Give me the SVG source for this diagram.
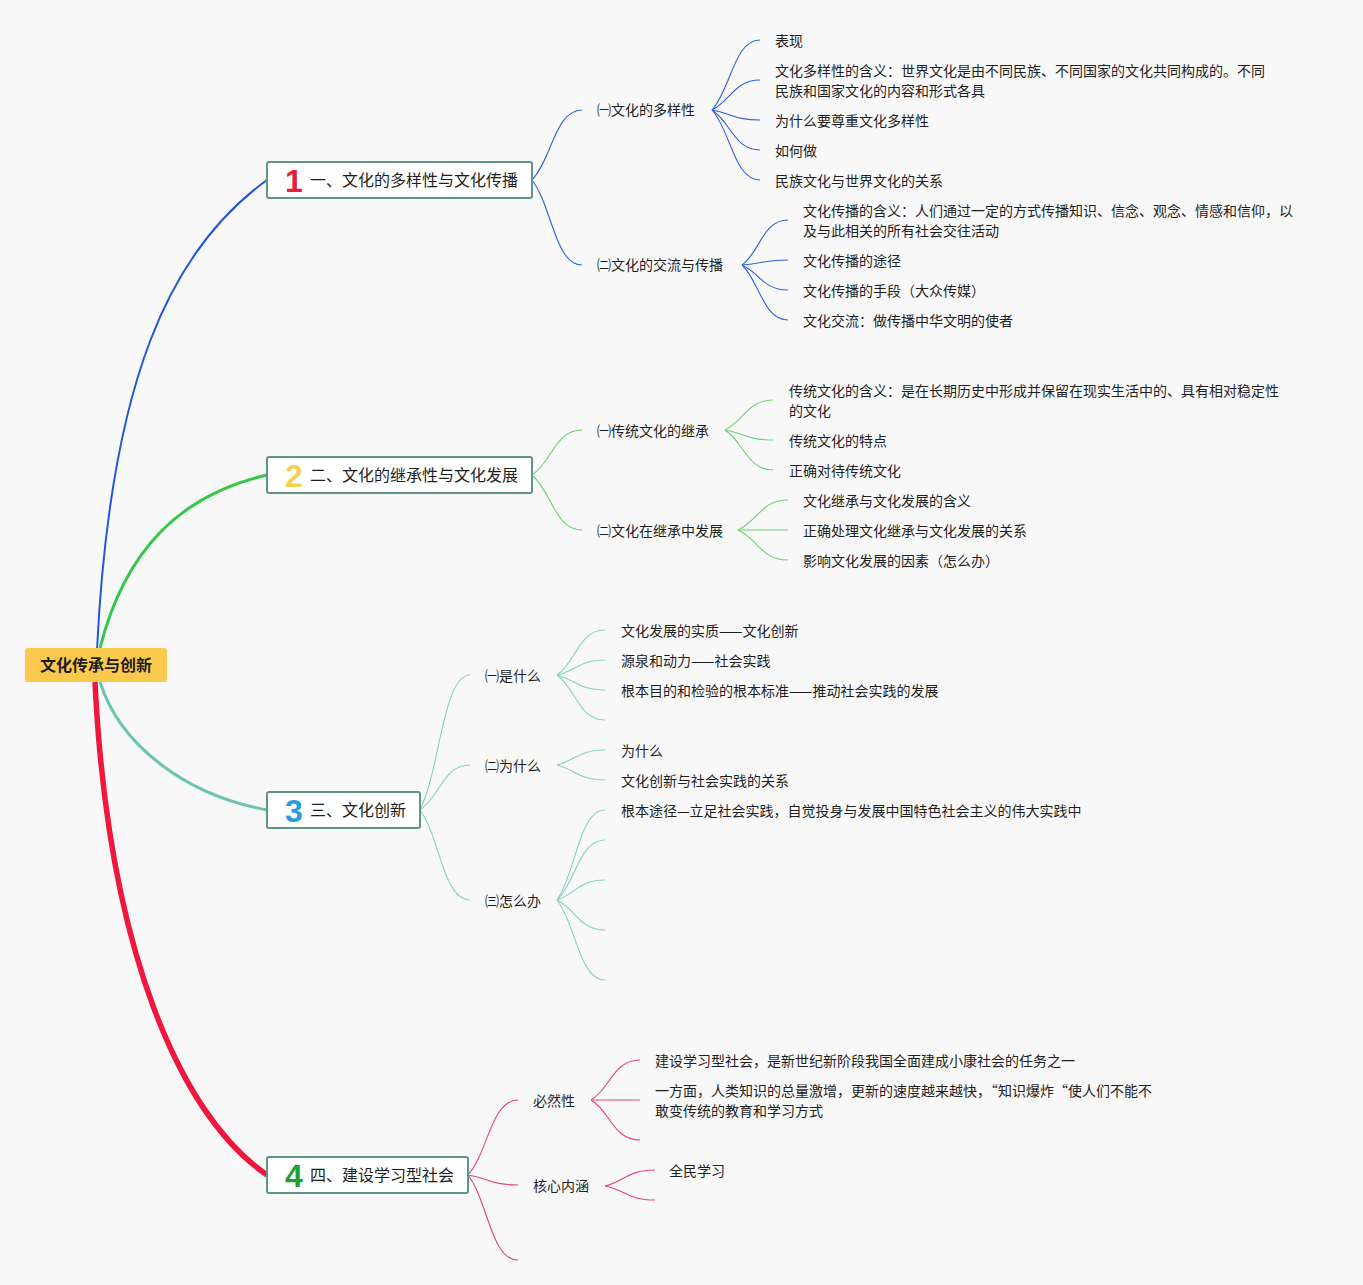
<svg xmlns="http://www.w3.org/2000/svg" width="1363" height="1285" viewBox="0 0 1363 1285">
<style>
text{font-family:"Noto Sans CJK SC","Liberation Sans",sans-serif;fill:#1e1e1e}
.t{font-size:14px}
.b{font-size:16px}
.num{font-family:"Liberation Sans","Noto Sans CJK SC",sans-serif;font-size:32px;font-weight:bold}
.box{fill:#ffffff;stroke:#5f9585;stroke-width:2}
.c1,.c2,.c3,.c4{fill:none;stroke-width:1.1}
.c1{stroke:#2f62e0}.c2{stroke:#6ad36e}.c3{stroke:#84d1bf}.c4{stroke:#e8456a}
</style>
<rect width="1363" height="1285" fill="#f8f8f9"/>
<g id="connectors">
<path d="M97,650 C110,380 170,250 267,180" fill="none" stroke="#2457d6" stroke-width="2"/>
<path d="M100,648 C125,550 180,495 267,475" fill="none" stroke="#34c848" stroke-width="3"/>
<path d="M100,682 C120,745 185,795 267,810" fill="none" stroke="#6cc4b0" stroke-width="3"/>
<path d="M95,682 C108,950 180,1115 267,1175" fill="none" stroke="#f0173c" stroke-width="5.5"/>
<path class="c1" d="M532,180 C552,159 555,110 582,110"/>
<path class="c1" d="M532,180 C552,206 555,265 582,265"/>
<path class="c1" d="M712,110 C731,89 734,40 760,40"/>
<path class="c1" d="M712,110 C731,101 734,80 760,80"/>
<path class="c1" d="M712,110 C731,113 734,120 760,120"/>
<path class="c1" d="M712,110 C731,122 734,150 760,150"/>
<path class="c1" d="M712,110 C731,131 734,180 760,180"/>
<path class="c1" d="M742,265 C760,252 763,220 788,220"/>
<path class="c1" d="M742,265 C760,264 763,260 788,260"/>
<path class="c1" d="M742,265 C760,273 763,290 788,290"/>
<path class="c1" d="M742,265 C760,282 763,320 788,320"/>
<path class="c2" d="M532,475 C552,462 555,430 582,430"/>
<path class="c2" d="M532,475 C552,492 555,530 582,530"/>
<path class="c2" d="M725,430 C744,421 747,400 773,400"/>
<path class="c2" d="M725,430 C744,433 747,440 773,440"/>
<path class="c2" d="M725,430 C744,442 747,470 773,470"/>
<path class="c2" d="M738,530 C758,521 761,500 788,500"/>
<path class="c2" d="M738,530 C758,530 761,530 788,530"/>
<path class="c2" d="M738,530 C758,539 761,560 788,560"/>
<path class="c3" d="M420,810 C440,770 443,675 470,675"/>
<path class="c3" d="M420,810 C440,797 443,765 470,765"/>
<path class="c3" d="M420,810 C440,837 443,900 470,900"/>
<path class="c3" d="M557,675 C576,662 579,630 605,630"/>
<path class="c3" d="M557,675 C576,671 579,660 605,660"/>
<path class="c3" d="M557,675 C576,680 579,690 605,690"/>
<path class="c3" d="M557,675 C576,689 579,720 605,720"/>
<path class="c3" d="M557,765 C576,760 579,750 605,750"/>
<path class="c3" d="M557,765 C576,770 579,780 605,780"/>
<path class="c3" d="M557,900 C576,873 579,810 605,810"/>
<path class="c3" d="M557,900 C576,882 579,840 605,840"/>
<path class="c3" d="M557,900 C576,894 579,880 605,880"/>
<path class="c3" d="M557,900 C576,909 579,930 605,930"/>
<path class="c3" d="M557,900 C576,924 579,980 605,980"/>
<path class="c4" d="M468,1175 C488,1153 491,1100 518,1100"/>
<path class="c4" d="M468,1175 C488,1178 491,1185 518,1185"/>
<path class="c4" d="M468,1175 C488,1201 491,1260 518,1260"/>
<path class="c4" d="M591,1100 C611,1088 613,1060 640,1060"/>
<path class="c4" d="M591,1100 C611,1100 613,1100 640,1100"/>
<path class="c4" d="M591,1100 C611,1112 613,1140 640,1140"/>
<path class="c4" d="M605,1186 C625,1181 628,1170 655,1170"/>
<path class="c4" d="M605,1186 C625,1190 628,1200 655,1200"/>
</g>
<g id="root">
<rect x="25" y="648" width="142" height="34" rx="3" fill="#fcc94f"/>
<text x="96" y="671" text-anchor="middle" font-size="16" font-weight="bold">文化传承与创新</text>
</g>
<g id="topic1">
<rect class="box" x="267" y="162" width="265" height="36" rx="2"/>
<text class="num" x="285" y="192" style="fill:#e3203a">1</text>
<text class="b" x="310" y="186">一、文化的多样性与文化传播</text>
</g>
<g id="topic2">
<rect class="box" x="267" y="457" width="265" height="36" rx="2"/>
<text class="num" x="285" y="487" style="fill:#f5d34a">2</text>
<text class="b" x="310" y="481">二、文化的继承性与文化发展</text>
</g>
<g id="topic3">
<rect class="box" x="267" y="792" width="153" height="36" rx="2"/>
<text class="num" x="285" y="822" style="fill:#2b9be0">3</text>
<text class="b" x="310" y="816">三、文化创新</text>
</g>
<g id="topic4">
<rect class="box" x="267" y="1157" width="201" height="36" rx="2"/>
<text class="num" x="285" y="1187" style="fill:#22a032">4</text>
<text class="b" x="310" y="1181">四、建设学习型社会</text>
</g>
<g id="sub1-1"><text class="t" x="597" y="115">㈠文化的多样性</text></g>
<g id="leaf1-1-1"><text class="t" x="775" y="46">表现</text></g>
<g id="leaf1-1-2"><text class="t" x="775" y="76">文化多样性的含义：世界文化是由不同民族、不同国家的文化共同构成的。不同</text><text class="t" x="775" y="96">民族和国家文化的内容和形式各具</text></g>
<g id="leaf1-1-3"><text class="t" x="775" y="126">为什么要尊重文化多样性</text></g>
<g id="leaf1-1-4"><text class="t" x="775" y="156">如何做</text></g>
<g id="leaf1-1-5"><text class="t" x="775" y="186">民族文化与世界文化的关系</text></g>
<g id="sub1-2"><text class="t" x="597" y="270">㈡文化的交流与传播</text></g>
<g id="leaf1-2-1"><text class="t" x="803" y="216">文化传播的含义：人们通过一定的方式传播知识、信念、观念、情感和信仰，以</text><text class="t" x="803" y="236">及与此相关的所有社会交往活动</text></g>
<g id="leaf1-2-2"><text class="t" x="803" y="266">文化传播的途径</text></g>
<g id="leaf1-2-3"><text class="t" x="803" y="296">文化传播的手段（大众传媒）</text></g>
<g id="leaf1-2-4"><text class="t" x="803" y="326">文化交流：做传播中华文明的使者</text></g>
<g id="sub2-1"><text class="t" x="597" y="436">㈠传统文化的继承</text></g>
<g id="leaf2-1-1"><text class="t" x="789" y="396">传统文化的含义：是在长期历史中形成并保留在现实生活中的、具有相对稳定性</text><text class="t" x="789" y="416">的文化</text></g>
<g id="leaf2-1-2"><text class="t" x="789" y="446">传统文化的特点</text></g>
<g id="leaf2-1-3"><text class="t" x="789" y="476">正确对待传统文化</text></g>
<g id="sub2-2"><text class="t" x="597" y="536">㈡文化在继承中发展</text></g>
<g id="leaf2-2-1"><text class="t" x="803" y="506">文化继承与文化发展的含义</text></g>
<g id="leaf2-2-2"><text class="t" x="803" y="536">正确处理文化继承与文化发展的关系</text></g>
<g id="leaf2-2-3"><text class="t" x="803" y="566">影响文化发展的因素（怎么办）</text></g>
<g id="sub3-1"><text class="t" x="485" y="681">㈠是什么</text></g>
<g id="leaf3-1-1"><text class="t" x="621" y="636">文化发展的实质——文化创新</text></g>
<g id="leaf3-1-2"><text class="t" x="621" y="666">源泉和动力——社会实践</text></g>
<g id="leaf3-1-3"><text class="t" x="621" y="696">根本目的和检验的根本标准——推动社会实践的发展</text></g>
<g id="sub3-2"><text class="t" x="485" y="771">㈡为什么</text></g>
<g id="leaf3-2-1"><text class="t" x="621" y="756">为什么</text></g>
<g id="leaf3-2-2"><text class="t" x="621" y="786">文化创新与社会实践的关系</text></g>
<g id="sub3-3"><text class="t" x="485" y="906">㈢怎么办</text></g>
<g id="leaf3-3-1"><text class="t" x="621" y="816">根本途径—立足社会实践，自觉投身与发展中国特色社会主义的伟大实践中</text></g>
<g id="sub4-1"><text class="t" x="533" y="1106">必然性</text></g>
<g id="leaf4-1-1"><text class="t" x="655" y="1066">建设学习型社会，是新世纪新阶段我国全面建成小康社会的任务之一</text></g>
<g id="leaf4-1-2"><text class="t" x="655" y="1096">一方面，人类知识的总量激增，更新的速度越来越快，“知识爆炸“使人们不能不</text><text class="t" x="655" y="1116">敢变传统的教育和学习方式</text></g>
<g id="sub4-2"><text class="t" x="533" y="1191">核心内涵</text></g>
<g id="leaf4-2-1"><text class="t" x="669" y="1176">全民学习</text></g>
</svg>
